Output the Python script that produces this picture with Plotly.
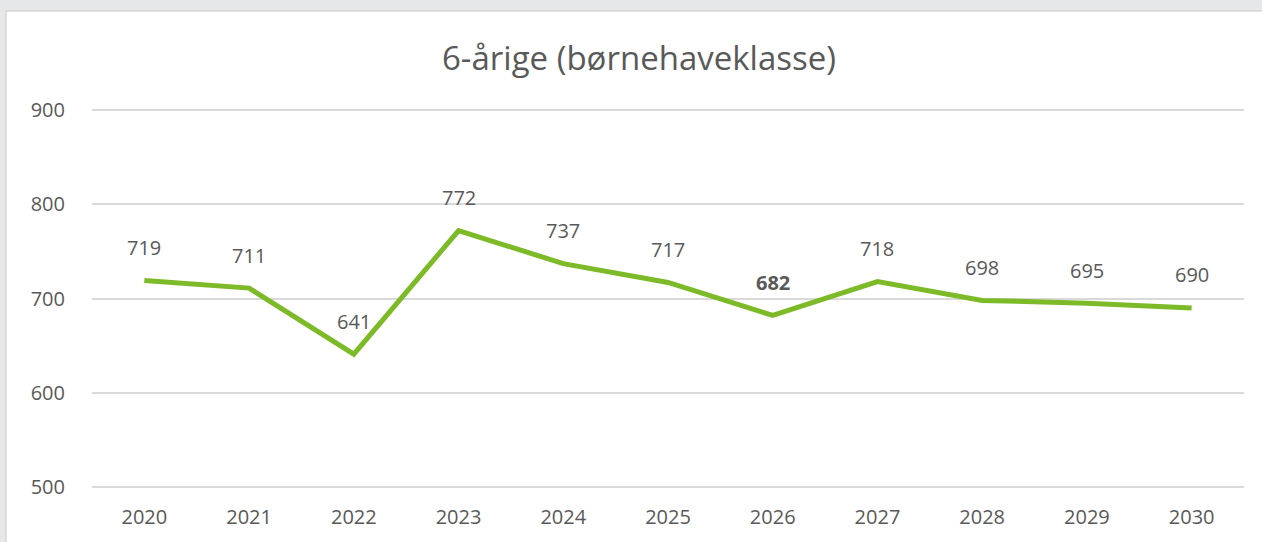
import plotly.graph_objects as go

years = ["2020", "2021", "2022", "2023", "2024", "2025", "2026", "2027", "2028", "2029", "2030"]
values = [719, 711, 641, 772, 737, 717, 682, 718, 698, 695, 690]
bold_labels = ["2026"]
y_ticks = [500, 600, 700, 800, 900]
title_text = "6-årige (børnehaveklasse)"

FONT = "Open Sans"
GREY = "#595959"
W, H = 1262, 542
L, R, T, B = 92, 18, 107, 50
pw, ph = W - L - R, H - T - B
Y0, Y1 = 497, 903

fig = go.Figure()
fig.add_trace(go.Scatter(
    x=years, y=values, mode="lines",
    line=dict(color="#7DBA28", width=5),
    hoverinfo="x+y", showlegend=False,
))

for i, (yr, v) in enumerate(zip(years, values)):
    txt = f"<b>{v}</b>" if yr in bold_labels else str(v)
    fig.add_annotation(x=i, y=v, xref="x", yref="y", text=txt, showarrow=False,
                       yshift=33, font=dict(family=FONT, size=20, color=GREY))

def px_x(p):
    return (p - L) / pw

def px_y(p):
    return (H - B - p) / ph

# white chart area on the grey surround
fig.add_shape(type="rect", xref="paper", yref="paper",
              x0=px_x(6), x1=px_x(1290), y0=px_y(580), y1=px_y(10.5),
              fillcolor="white", line=dict(color="#d6d6d6", width=1.5), layer="below")

fig.update_layout(
    width=W, height=H,
    margin=dict(l=L, r=R, t=T, b=B),
    paper_bgcolor="#e6e7e9",
    plot_bgcolor="rgba(0,0,0,0)",
    title=dict(text=title_text, x=639 / W, xref="container", xanchor="center",
               y=1 - 58 / H, yref="container", yanchor="middle",
               font=dict(family=FONT, size=33, color=GREY)),
    font=dict(family=FONT, size=20, color=GREY),
    xaxis=dict(type="category", range=[-0.5, len(years) - 0.5], showgrid=False,
               zeroline=False, showline=False, ticks="", ticklabelstandoff=13,
               tickfont=dict(family=FONT, size=20, color=GREY)),
    yaxis=dict(range=[Y0, Y1], tickvals=y_ticks, showgrid=True,
               gridcolor="#d9d9d9", gridwidth=1.5, zeroline=False, showline=False,
               ticks="", ticklabelstandoff=26,
               tickfont=dict(family=FONT, size=20, color=GREY)),
)

fig.write_html("out.html", config={"displayModeBar": False},
               post_script="document.body.style.margin='0';document.body.style.overflow='hidden';")
